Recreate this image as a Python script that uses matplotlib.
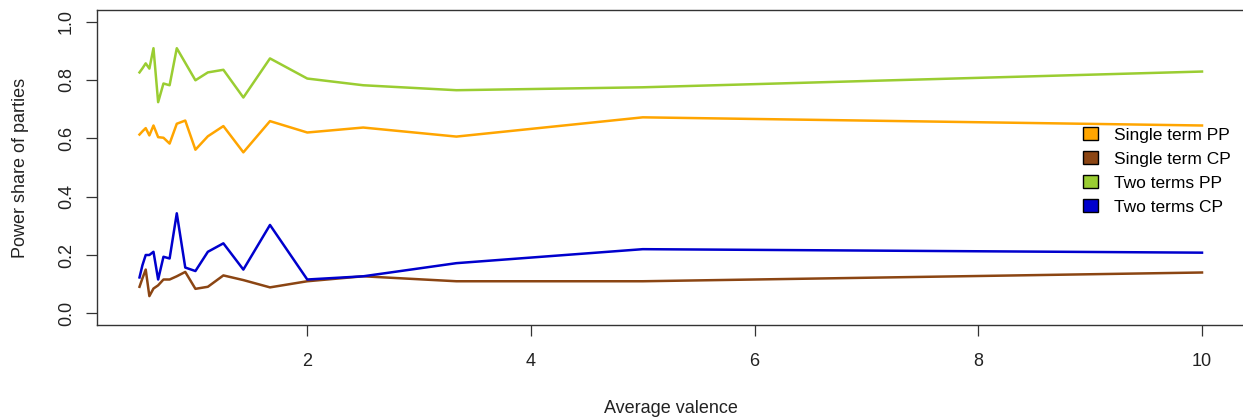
import numpy as np
import matplotlib
matplotlib.use("Agg")
from matplotlib import pyplot as plt
from matplotlib.patches import Patch

plt.rcParams['font.family'] = ['Liberation Sans', 'DejaVu Sans']

# Average valence values (10/k, k = 20..1)
valence = [10 / k for k in range(20, 0, -1)]

single_pp = [0.613, 0.624, 0.635, 0.610, 0.644, 0.604, 0.602, 0.582, 0.650, 0.661,
             0.561, 0.607, 0.642, 0.552, 0.659, 0.620, 0.637, 0.606, 0.672, 0.644]
single_cp = [0.091, 0.120, 0.150, 0.059, 0.085, 0.096, 0.116, 0.116, 0.127, 0.142,
             0.084, 0.091, 0.130, 0.114, 0.089, 0.110, 0.127, 0.110, 0.110, 0.140]
two_pp = [0.826, 0.840, 0.857, 0.839, 0.909, 0.724, 0.788, 0.782, 0.909, 0.859,
          0.799, 0.826, 0.835, 0.740, 0.874, 0.805, 0.782, 0.765, 0.775, 0.829]
two_cp = [0.123, 0.165, 0.200, 0.200, 0.211, 0.116, 0.194, 0.188, 0.343, 0.157,
          0.145, 0.211, 0.240, 0.150, 0.303, 0.116, 0.127, 0.172, 0.220, 0.208]

series_names = ['Single term PP', 'Single term CP', 'Two terms PP', 'Two terms CP']
colors = ['#FFA500', '#8B4513', '#9ACD32', '#0000CD']

fig = plt.figure(figsize=(12.43, 4.19), dpi=100)
ax = fig.add_axes([97 / 1243, 1 - 325 / 419, 1147.5 / 1243, 315 / 419])

for ys, c in zip([single_pp, single_cp, two_pp, two_cp], colors):
    ax.plot(valence, ys, color=c, lw=1.8)

ax.set_xlim(0.12, 10.38)
ax.set_ylim(-0.04, 1.04)
ax.set_xticks([2, 4, 6, 8, 10])
ax.set_yticks([0.0, 0.2, 0.4, 0.6, 0.8, 1.0])
ax.set_yticklabels(['0.0', '0.2', '0.4', '0.6', '0.8', '1.0'], rotation=90, va='center')

for s in ax.spines.values():
    s.set_color('#333333')
    s.set_linewidth(1.0)
ax.tick_params(direction='out', length=8, width=0.9, color='#333333',
               labelsize=13, labelcolor='#222222')
ax.tick_params(axis='x', pad=12)
ax.tick_params(axis='y', pad=8)

ax.set_xlabel('Average valence', fontsize=13, color='#222222')
ax.xaxis.label.set_va('center')
ax.xaxis.set_label_coords(0.5, (325 - 408) / 315)
ax.set_ylabel('Power share of parties', fontsize=13, color='#222222')
ax.yaxis.label.set_va('center')
ax.yaxis.set_label_coords((20 - 97) / 1147.5, 0.5)

handles = [Patch(facecolor=c, edgecolor='black', linewidth=1.0) for c in colors]
fig.legend(handles, series_names, loc='upper left',
           bbox_to_anchor=(1071 / 1243, 1 - 115 / 419), frameon=False,
           fontsize=12.5, handlelength=0.85, handleheight=0.75, handletextpad=0.95,
           labelspacing=0.5, borderpad=0.2)

fig.savefig('out.png', dpi=100)
